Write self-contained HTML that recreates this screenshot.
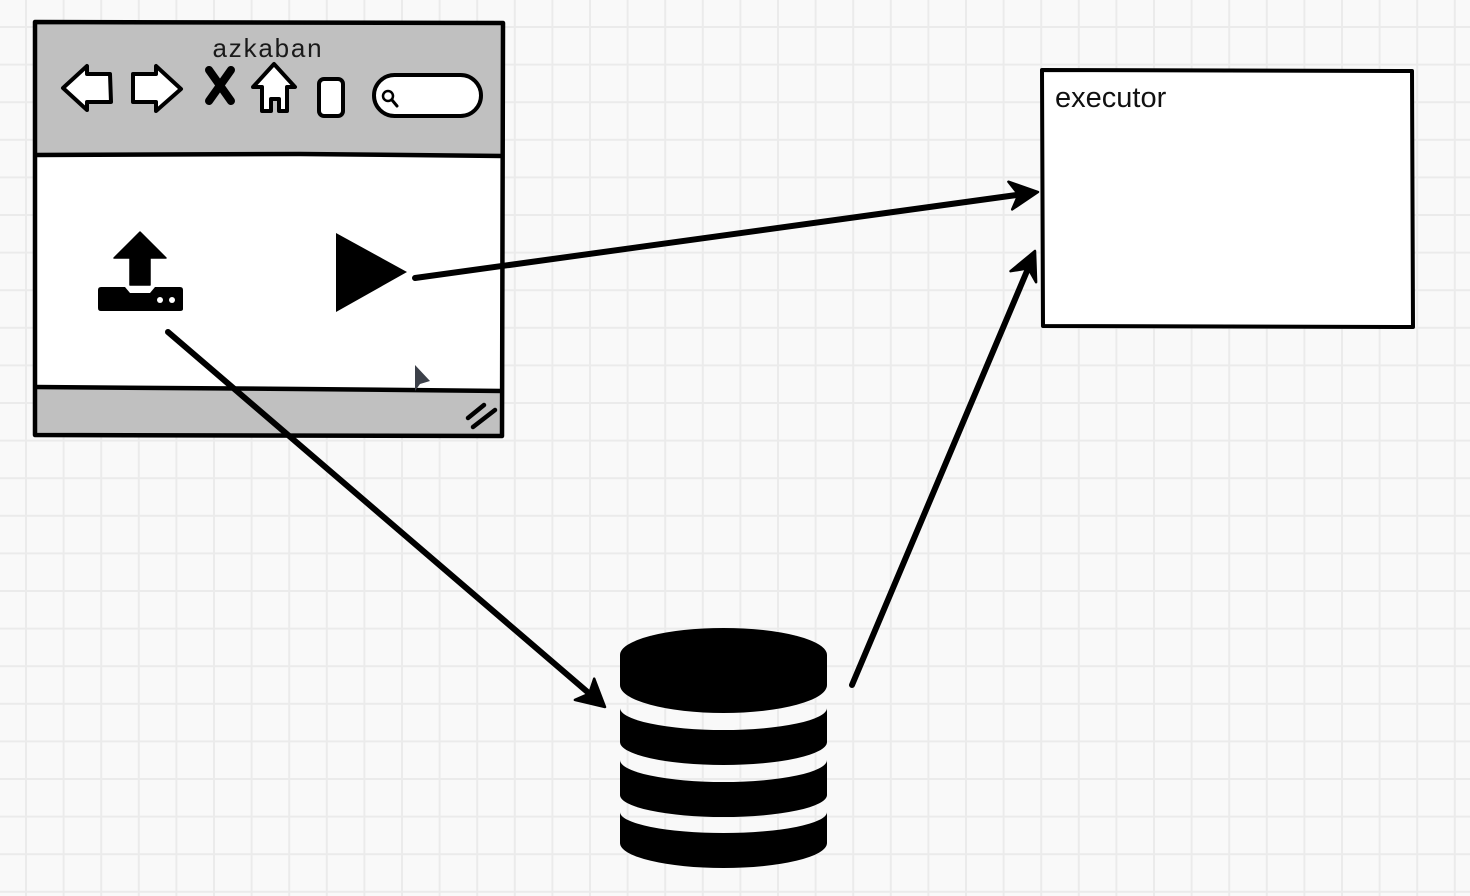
<!DOCTYPE html>
<html>
<head>
<meta charset="utf-8">
<style>
html,body{margin:0;padding:0;width:1470px;height:896px;overflow:hidden;background:#f9f9f9;}
svg{display:block;}
</style>
</head>
<body>
<svg width="1470" height="896" viewBox="0 0 1470 896" xmlns="http://www.w3.org/2000/svg">
  <defs>
    <pattern id="grid" patternUnits="userSpaceOnUse" x="7.2" y="8.2" width="37.6" height="37.6">
      <line x1="18.8" y1="0" x2="18.8" y2="37.6" stroke="#ebebeb" stroke-width="2"/>
      <line x1="0" y1="18.8" x2="37.6" y2="18.8" stroke="#ebebeb" stroke-width="2"/>
    </pattern>
  </defs>
  <rect x="0" y="0" width="1470" height="896" fill="#f9f9f9"/>
  <rect x="0" y="0" width="1470" height="896" fill="url(#grid)"/>

  <!-- Browser window -->
  <rect x="35" y="22" width="468" height="133" fill="#c0c0c0"/>
  <rect x="35" y="155" width="468" height="234" fill="#ffffff"/>
  <rect x="35" y="389" width="468" height="47" fill="#c0c0c0"/>
  <path d="M35 22 L503 23 L502 436 L35 435 Z" fill="none" stroke="#000" stroke-width="4.5" stroke-linejoin="round"/>
  <path d="M35 155 L300 154 L503 156" fill="none" stroke="#000" stroke-width="4.5"/>
  <path d="M35 387 L300 389 L503 391" fill="none" stroke="#000" stroke-width="4.5"/>

  <text x="268" y="57" text-anchor="middle" font-family="Liberation Sans, sans-serif" font-size="26" letter-spacing="1.8" fill="#1a1a1a">azkaban</text>

  <!-- back arrow -->
  <path d="M63 88 L87 66 L87 74 L110 74 L111 102 L87 102 L87 110 Z" fill="#fff" stroke="#000" stroke-width="4" stroke-linejoin="round"/>
  <!-- forward arrow -->
  <path d="M181 89 L156 66 L156 74 L133 74 L133 102 L156 102 L156 111 Z" fill="#fff" stroke="#000" stroke-width="4" stroke-linejoin="round"/>
  <!-- X -->
  <path d="M209 70 L231 101 M231 70 L209 101" stroke="#000" stroke-width="8" stroke-linecap="round"/>
  <!-- home -->
  <path d="M274 64 L295 87 L287 87 L287 111 L279 111 L279 99 L271 99 L271 111 L262 111 L262 87 L253 87 Z" fill="#fff" stroke="#000" stroke-width="4" stroke-linejoin="round"/>
  <!-- small rect -->
  <rect x="319" y="79" width="24" height="37" rx="5" fill="#fff" stroke="#000" stroke-width="4"/>
  <!-- search pill -->
  <rect x="374" y="75" width="107" height="41" rx="20.5" fill="#fff" stroke="#000" stroke-width="4"/>
  <circle cx="388" cy="96" r="5" fill="none" stroke="#000" stroke-width="2.5"/>
  <line x1="392" y1="100" x2="397" y2="106" stroke="#000" stroke-width="3" stroke-linecap="round"/>

  <!-- upload icon -->
  <path d="M140 232 L166 258 L150 258 L150 285 L130 285 L130 258 L114 258 Z" fill="#000" stroke="#000" stroke-width="1.5" stroke-linejoin="round"/>
  <path d="M101 287 L125 287 L130 293 L150 293 L155 287 L180 287 Q183 287 183 290 L183 309 Q183 311 180 311 L101 311 Q98 311 98 308 L98 290 Q98 287 101 287 Z" fill="#000"/>
  <circle cx="160" cy="300" r="3" fill="#fff"/>
  <circle cx="172" cy="300" r="3" fill="#fff"/>

  <!-- play triangle -->
  <path d="M336 233 L407 272 L336 312 Z" fill="#000"/>

  <!-- cursor -->
  <path d="M415 365 L415 391 L420 384 L430 381 Z" fill="#3c4049"/>

  <!-- resize glyph -->
  <path d="M468 418 L484 405 M473 427 L495 410" stroke="#000" stroke-width="4.5" stroke-linecap="round"/>

  <!-- executor box -->
  <rect x="1042" y="70" width="371" height="257" fill="#ffffff"/>
  <path d="M1042 70 L1412 71 L1413 327 L1043 326 Z" fill="none" stroke="#000" stroke-width="4" stroke-linejoin="round"/>
  <text x="1055" y="107" font-family="Liberation Sans, sans-serif" font-size="29" fill="#111">executor</text>

  <!-- database -->
  <path d="M620 655 A103.5 27 0 0 1 827 655 L827 685 A103.5 28 0 0 1 620 685 Z" fill="#000"/>
  <path d="M620 708 A103.5 22 0 0 0 827 708 L827 742 A103.5 23 0 0 1 620 742 Z" fill="#000"/>
  <path d="M620 760 A103.5 22 0 0 0 827 760 L827 795 A103.5 22 0 0 1 620 795 Z" fill="#000"/>
  <path d="M620 812 A103.5 21 0 0 0 827 812 L827 843 A103.5 25 0 0 1 620 843 Z" fill="#000"/>

  <!-- connectors -->
  <g stroke="#000" stroke-width="6" stroke-linecap="round" fill="none">
    <line x1="415" y1="278" x2="1020" y2="194.5"/>
    <line x1="168" y1="332" x2="591" y2="695"/>
    <line x1="852" y1="685" x2="1027" y2="271"/>
  </g>
  <g fill="#000" stroke="#000" stroke-width="2.5" stroke-linejoin="round">
    <path d="M1038 192 L1012.2 209.4 L1018.6 194.6 L1008.4 181.7 Z"/>
    <path d="M605 707 L574.9 699.9 L589.2 693.6 L594.2 678.7 Z"/>
    <path d="M1035 251 L1036.1 282.2 L1028.2 268.3 L1010.5 271.2 Z"/>
  </g>
</svg>
</body>
</html>
